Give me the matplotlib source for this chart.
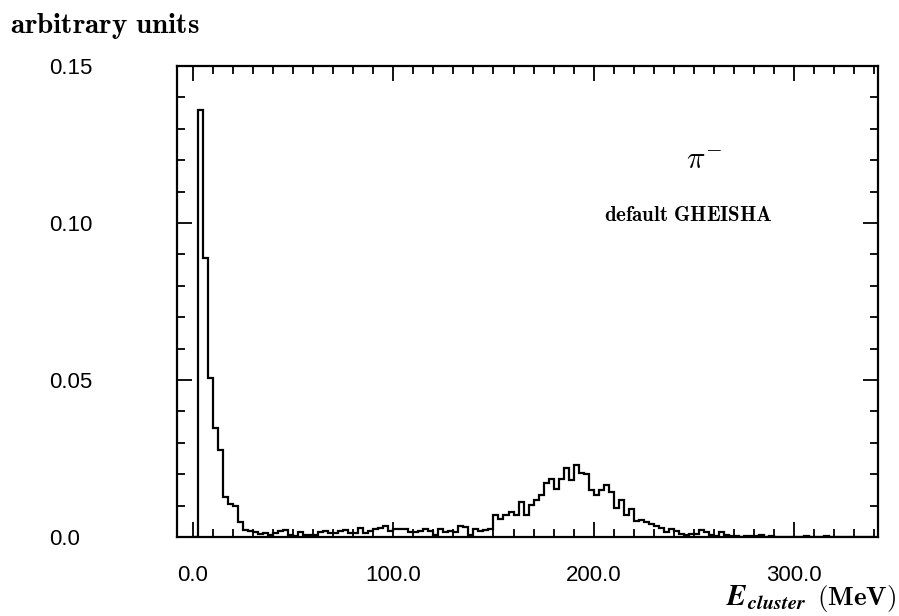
import numpy as np
import matplotlib
matplotlib.use("Agg")
import matplotlib.pyplot as plt
from matplotlib.ticker import MultipleLocator

plt.rcParams['mathtext.fontset'] = 'cm'

# ---- data: pi- cluster energy histogram (default GHEISHA) ----
bin_start = 0.0
bin_width = 2.5
counts = [
    0.0, 0.136, 0.089, 0.0505, 0.0346, 0.0278, 0.0128, 0.0104, 0.0100, 0.0048,
    0.0022, 0.0020, 0.0015, 0.0010, 0.0012, 0.0006, 0.0012, 0.0018, 0.0022, 0.0008,
    0.0002, 0.0016, 0.0005, 0.0005, 0.0008, 0.0015, 0.0018, 0.0013, 0.0014, 0.0019,
    0.0021, 0.0014, 0.0014, 0.0029, 0.0014, 0.0018, 0.0026, 0.0030, 0.0034, 0.0019,
    0.0024, 0.0024, 0.0024, 0.0016, 0.0016, 0.0020, 0.0024, 0.0019, 0.0007, 0.0024,
    0.0016, 0.0019, 0.0015, 0.0034, 0.0031, 0.0008, 0.0027, 0.0019, 0.0023, 0.0027,
    0.0069, 0.0059, 0.0069, 0.0080, 0.0069, 0.0112, 0.0069, 0.0101, 0.0119, 0.0133,
    0.0172, 0.0186, 0.0154, 0.0185, 0.0221, 0.0181, 0.0230, 0.0204, 0.0200, 0.0149,
    0.0133, 0.0149, 0.0165, 0.0144, 0.0094, 0.0117, 0.0069, 0.0090, 0.0052, 0.0055,
    0.0048, 0.0043, 0.0035, 0.0029, 0.0016, 0.0027, 0.0018, 0.0011, 0.0007, 0.0011,
    0.0011, 0.0021, 0.0016, 0.0005, 0.0002, 0.0016, 0.0007, 0.0002, 0.0002, 0.0001,
    0.0002, 0.0003, 0.0003, 0.0005, 0.0001, 0.0002, 0.0000, 0.0001, 0.0000, 0.0000,
    0.0000, 0.0000, 0.0002, 0.0000, 0.0000, 0.0000, 0.0002, 0.0000, 0.0000, 0.0000,
    0.0000, 0.0000, 0.0000, 0.0000, 0.0000, 0.0000,
]
x_ticks = [0, 100, 200, 300]
x_ticklabels = ["0.0", "100.0", "200.0", "300.0"]
y_ticks = [0.0, 0.05, 0.10, 0.15]
y_ticklabels = ["0.0", "0.05", "0.10", "0.15"]

edges = bin_start + bin_width * np.arange(len(counts) + 1)

fig = plt.figure(figsize=(8.99, 6.16), dpi=100)
ax = fig.add_axes([0.1969, 0.1282, 0.7798, 0.7647])

ax.stairs(counts, edges, color='black', linewidth=1.6, baseline=0)

ax.set_xlim(-8, 342)
ax.set_ylim(0, 0.15)

for s in ax.spines.values():
    s.set_linewidth(1.6)

tick_font = dict(family=['Liberation Sans', 'DejaVu Sans'], size=16)
ax.set_xticks(x_ticks)
ax.set_xticklabels(x_ticklabels, **tick_font)
ax.set_yticks(y_ticks)
ax.set_yticklabels(y_ticklabels, **tick_font)
ax.xaxis.set_minor_locator(MultipleLocator(10))
ax.yaxis.set_minor_locator(MultipleLocator(0.01))

ax.tick_params(which='both', direction='in', top=True, right=True, width=1.3, color='black')
ax.tick_params(which='major', length=11)
ax.tick_params(which='minor', length=6)
ax.tick_params(axis='x', which='major', pad=20)
ax.tick_params(axis='y', which='major', pad=92)
for lab in ax.get_yticklabels():
    lab.set_horizontalalignment('left')

# texts
fig.text(0.011, 0.958, r'$\mathbf{arbitrary\ units}$', fontsize=21, ha='left', va='center')
ax.text(0.752, 0.80, r'$\pi^{-}$', transform=ax.transAxes, fontsize=22, ha='center', va='center')
ax.text(0.73, 0.683, r'$\mathbf{default\ GHEISHA}$', transform=ax.transAxes, fontsize=15,
        ha='center', va='center')
fig.text(0.8965, 0.018, r'$\mathbfit{E}_{\mathbfit{cluster}}$', fontsize=21,
         ha='right', va='baseline')
fig.text(0.997, 0.018, r'$\mathbf{(MeV)}$', fontsize=19.5,
         ha='right', va='baseline')

fig.savefig('out.png', dpi=100)
